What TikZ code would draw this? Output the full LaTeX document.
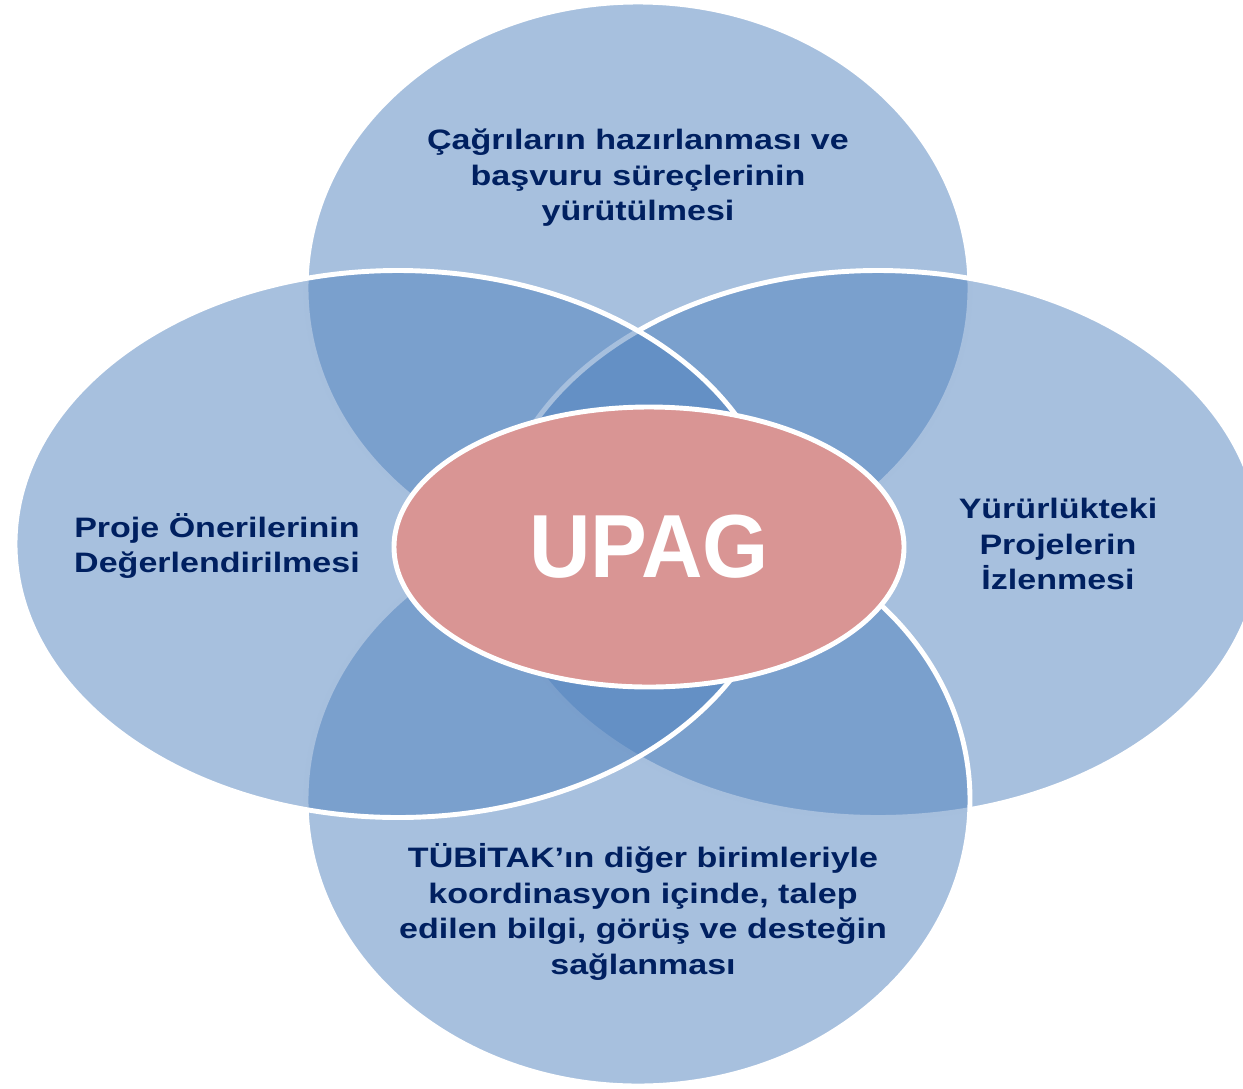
\documentclass[tikz,border=0pt]{standalone}
\usepackage{fontspec}
\setmainfont{Liberation Sans}
\newfontfamily\widesans[FakeStretch=1.21]{Liberation Sans}
\newfontfamily\coresans[FakeStretch=0.95]{Liberation Sans}
\usepackage{xcolor}
\usepackage{tikz}
\usetikzlibrary{shapes.geometric, positioning}
\definecolor{petalblue}{RGB}{79,129,189}
\definecolor{corepink}{RGB}{217,149,148}
\definecolor{textnavy}{RGB}{0,32,96}
\tikzstyle{petal} = [ellipse, draw=white, line width=2.8pt, fill=petalblue, fill opacity=0.5, draw opacity=1, inner sep=0pt]
\tikzstyle{tallpetal} = [petal, minimum width=13.28cm, minimum height=11.44cm]
\tikzstyle{widepetal} = [petal, minimum width=15.32cm, minimum height=10.94cm]
\tikzstyle{core} = [ellipse, draw=white, line width=2.8pt, fill=corepink, minimum width=10.2cm, minimum height=5.6cm, inner sep=0pt, text=white, font=\coresans\bfseries\fontsize{51}{60}\selectfont]
\tikzstyle{caption} = [text=textnavy, align=center, inner sep=0pt, font=\widesans\bfseries\fontsize{16}{20.2}\selectfont]

\begin{document}
\begin{tikzpicture}
                        \useasboundingbox (0,0) rectangle (24.86,-21.76);
                        \clip (0,0) rectangle (24.86,-21.76);
                        \node (Top) [tallpetal] at (12.76,-5.76) {};
                        \node (Right) [widepetal] at (17.56,-10.88) {};
                        \node (Bottom) [tallpetal] at (12.76,-16.00) {};
                        \node (Left) [widepetal] at (7.96,-10.88) {};
                        \node (UPAG) [core] at (12.98,-10.94) {UPAG};
                        \node (CallText) [caption] at (12.76,-3.56) {Çağrıların hazırlanması ve\\başvuru süreçlerinin\\yürütülmesi};
                        \node (EvalText) [caption] at (4.34,-10.92) {Proje Önerilerinin\\Değerlendirilmesi};
                        \node (TrackText) [caption] at (21.16,-10.88) {Yürürlükteki\\Projelerin\\İzlenmesi};
                        \node (CoordText) [caption] at (12.86,-18.24) {TÜBİTAK’ın diğer birimleriyle\\koordinasyon içinde, talep\\edilen bilgi, görüş ve desteğin\\sağlanması};
                    \end{tikzpicture}
\end{document}
